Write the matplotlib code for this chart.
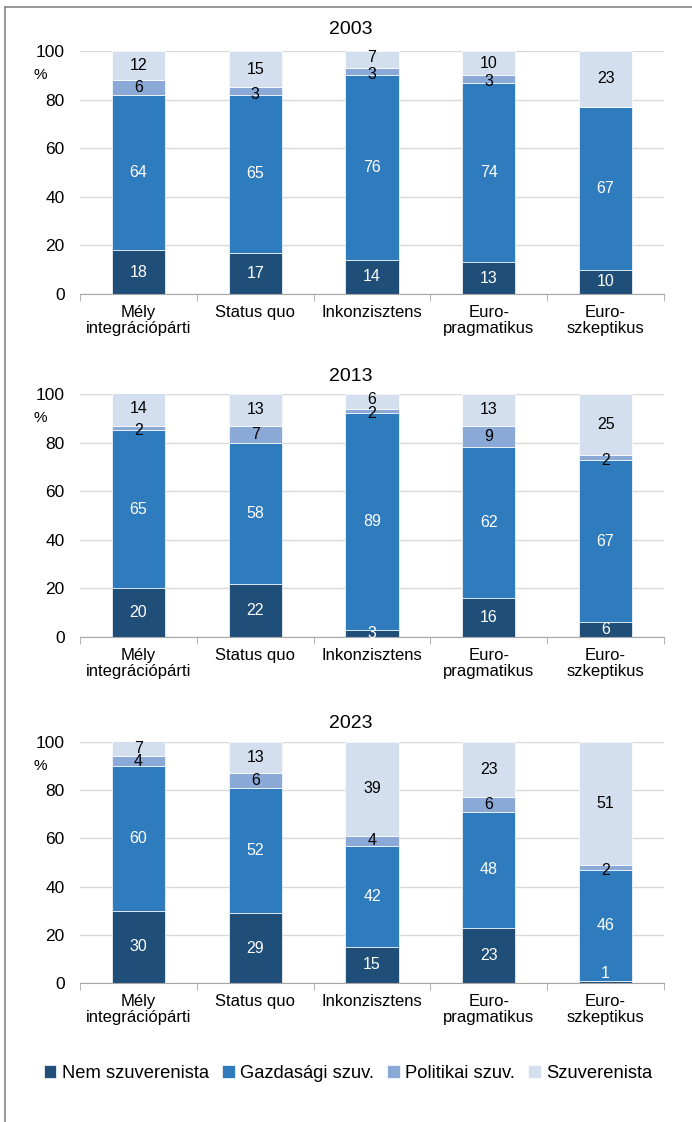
import matplotlib.pyplot as plt
from matplotlib.lines import Line2D
import numpy as np

plt.rcParams['font.family'] = ['Liberation Sans', 'DejaVu Sans']

categories = ['Mély\nintegrációpárti', 'Status quo', 'Inkonzisztens',
              'Euro-\npragmatikus', 'Euro-\nszkeptikus']
series = ['Nem szuverenista', 'Gazdasági szuv.', 'Politikai szuv.', 'Szuverenista']
colors = ['#1F4E79', '#2E7BBD', '#8AA9D6', '#D3DFEF']
txtcolors = ['white', 'white', 'black', 'black']
years = ['2003', '2013', '2023']

# order: Nem szuv., Gazdasági, Politikai, Szuverenista
nem_2003 = [18, 17, 14, 13, 10]
gazd_2003 = [64, 65, 76, 74, 67]
pol_2003 = [6, 3, 3, 3, 0]
szuv_2003 = [12, 15, 7, 10, 23]

nem_2013 = [20, 22, 3, 16, 6]
gazd_2013 = [65, 58, 89, 62, 67]
pol_2013 = [2, 7, 2, 9, 2]
szuv_2013 = [14, 13, 6, 13, 25]

nem_2023 = [30, 29, 15, 23, 1]
gazd_2023 = [60, 52, 42, 48, 46]
pol_2023 = [4, 6, 4, 6, 2]
szuv_2023 = [7, 13, 39, 23, 51]

data = [[nem_2003, gazd_2003, pol_2003, szuv_2003],
        [nem_2013, gazd_2013, pol_2013, szuv_2013],
        [nem_2023, gazd_2023, pol_2023, szuv_2023]]

fig = plt.figure(figsize=(6.92, 11.22), dpi=100)

W, H = 692.0, 1122.0
panels = [(51, 294, 30), (394, 637, 376), (742, 983, 723)]  # top px, bottom px, title px
x0, x1 = 80, 664

x = np.arange(len(categories))
handles = []
for k, (ptop, pbot, ttl) in enumerate(panels):
    ax = fig.add_axes([x0 / W, 1 - pbot / H, (x1 - x0) / W, (pbot - ptop) / H])
    bottom = np.zeros(len(categories))
    for s in range(4):
        vals = np.array(data[k][s], dtype=float)
        bars = ax.bar(x, vals, 0.455, bottom=bottom, color=colors[s],
                      edgecolor='white', linewidth=0.5, label=series[s], zorder=2)
        if k == 0:
            handles.append(bars)
        for i, v in enumerate(vals):
            if v > 0:
                yc = min(bottom[i] + v / 2, 100)
                if v == 1:
                    yc = bottom[i] + 4
                if s == 2 and v <= 3:
                    yc -= 1.2
                if s == 3 and v <= 7:
                    yc = min(bottom[i] + v / 2 + 0.8, 100 - v / 2 + 0.8)
                ax.text(x[i], yc, '%d' % v, ha='center', va='center',
                        color=txtcolors[s], fontsize=11.5, zorder=3)
        bottom += vals
    ax.set_xlim(-0.5, 4.5)
    ax.set_ylim(0, 100)
    ax.set_yticks([0, 20, 40, 60, 80, 100])
    ax.yaxis.grid(True, color='#D9D9D9', linewidth=1, zorder=0)
    ax.set_axisbelow(True)
    for sp in ['left', 'right', 'top']:
        ax.spines[sp].set_visible(False)
    ax.spines['bottom'].set_color('#A6A6A6')
    ax.set_xticks(x)
    ax.set_xticklabels(categories, fontsize=12, linespacing=1.1)
    ax.set_xticks(np.arange(-0.5, 5, 1), minor=True)
    ax.tick_params(axis='x', which='major', length=0, pad=8)
    ax.tick_params(axis='x', which='minor', length=5, color='#A6A6A6')
    ax.tick_params(axis='y', length=0, pad=11, labelsize=12.5)
    ax.text(-0.068, 90, '%', transform=ax.get_yaxis_transform(),
            ha='center', va='center', fontsize=11)
    fig.text(351 / W, 1 - ttl / H, years[k], ha='center', va='center', fontsize=14)

fig.legend(handles=handles, labels=series, loc='center',
           bbox_to_anchor=(348 / W, 1 - 1073 / H), ncol=4, frameon=False,
           fontsize=13.2, handlelength=0.7, handleheight=0.7,
           handletextpad=0.3, columnspacing=0.7)

fig.add_artist(Line2D([5 / W, 5 / W], [0, 1 - 7 / H], color='#888888', linewidth=1.2))
fig.add_artist(Line2D([5 / W, 1], [1 - 7 / H, 1 - 7 / H], color='#888888', linewidth=1.2))

plt.savefig('out.png', dpi=100)
